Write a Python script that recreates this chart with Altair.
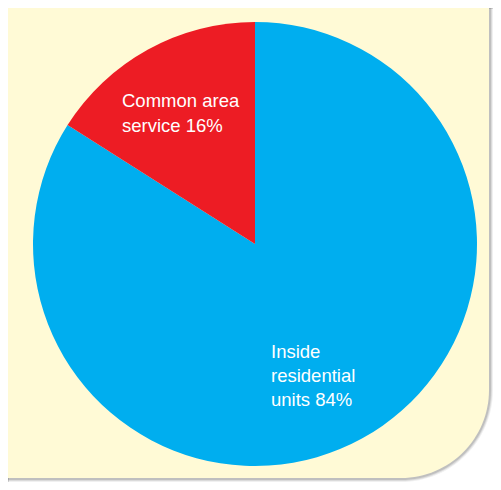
import altair as alt
import pandas as pd

categories = ["Inside residential units", "Common area service"]
shares = [84, 16]
label_lines = [["Inside", "residential", "units 84%"], ["Common area", "service 16%"]]
colors = ["#00AEEF", "#ED1C24"]

df = pd.DataFrame({"category": categories, "share": shares,
                   "label": label_lines})

one = alt.Data(values=[{"k": 1}])
W, H = 485, 474

def panel(x2, y2, color, opacity, radius):
    return alt.Chart(one).mark_rect(
        color=color, opacity=opacity, cornerRadiusBottomRight=radius
    ).encode(x=alt.value(0), x2=alt.value(x2), y=alt.value(0), y2=alt.value(y2))

shadows = [
    panel(485, 474, "#000000", 0.06, 92),
    panel(484, 473, "#000000", 0.09, 91),
    panel(483, 472, "#000000", 0.12, 90),
]
bg = panel(481, 470, "#FFFAD6", 1, 88)

base = alt.Chart(df)
pie = base.mark_arc(radius=222).encode(
    theta=alt.Theta("share:Q", stack=True),
    order=alt.Order("share:Q", sort="descending"),
    color=alt.Color("category:N", scale=alt.Scale(domain=categories, range=colors), legend=None),
    x=alt.value(247),
    y=alt.value(236),
)

font = "Liberation Sans"
txt_common = base.transform_filter(alt.datum.category == categories[1]).mark_text(
    align="left", baseline="alphabetic", font=font, fontSize=18.5, lineHeight=24.5, color="white"
).encode(text="label", x=alt.value(114), y=alt.value(99))
txt_inside = base.transform_filter(alt.datum.category == categories[0]).mark_text(
    align="left", baseline="alphabetic", font=font, fontSize=18.5, lineHeight=24, color="white"
).encode(text="label", x=alt.value(263), y=alt.value(350))

chart = alt.layer(*shadows, bg, pie, txt_common, txt_inside).properties(
    width=W, height=H, autosize=alt.AutoSizeParams(type="none"), padding=0
).configure_view(stroke=None).configure(background="white")

chart.save("out.html", embed_options={"renderer": "svg", "actions": False})
